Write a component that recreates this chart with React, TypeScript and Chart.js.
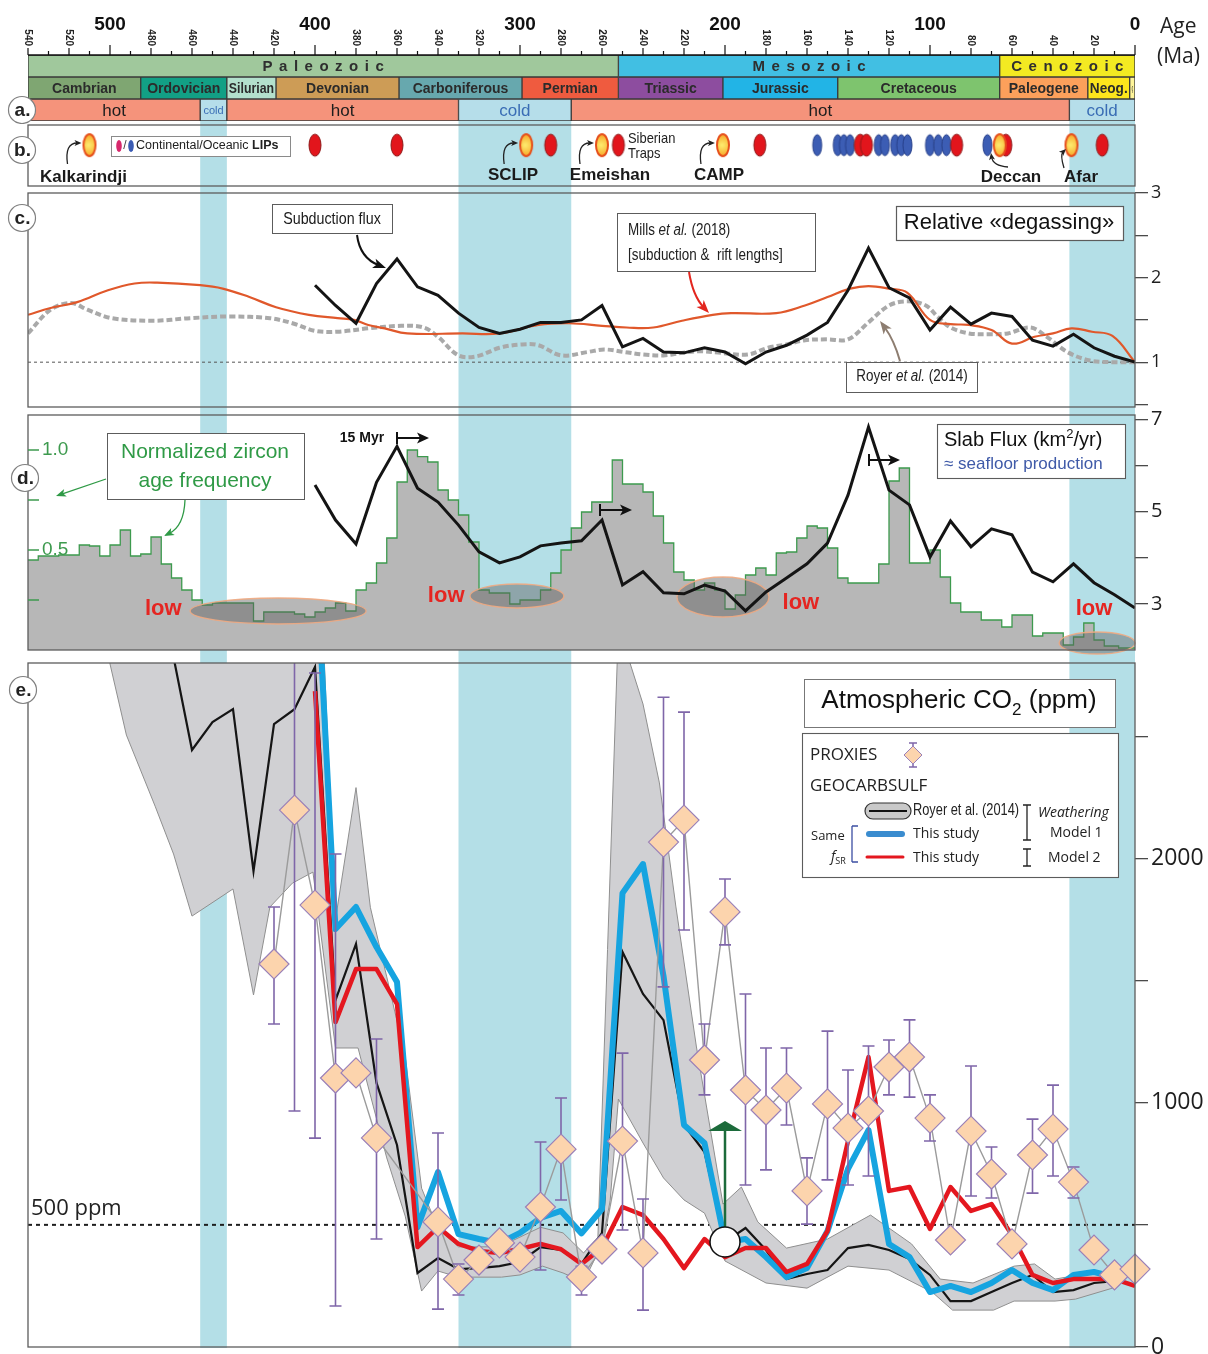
import React, { useEffect, useRef } from 'react';
import { Chart, registerables } from 'chart.js';

Chart.register(...registerables);

/* ======================= DATA ======================= */
// geological time scale (Ma)
const eraNames = ['Paleozoic', 'Mesozoic', 'Cenozoic'];
const eraStart = [540, 252, 66];
const eraEnd = [252, 66, 0];
const eraColors = ['#a0c89c', '#41bfe3', '#f3ea22'];

const periodNames = ['Cambrian', 'Ordovician', 'Silurian', 'Devonian', 'Carboniferous', 'Permian', 'Triassic', 'Jurassic', 'Cretaceous', 'Paleogene', 'Neog.', 'Q'];
const periodStart = [540, 485, 443, 419, 359, 299, 252, 201, 145, 66, 23, 2.6];
const periodEnd = [485, 443, 419, 359, 299, 252, 201, 145, 66, 23, 2.6, 0];
const periodColors = ['#7fa672', '#12a085', '#b3e0cc', '#cd9c56', '#67a8ae', '#ef5b3f', '#8d4d9f', '#22b4e6', '#7ec46e', '#fca05b', '#fde51c', '#fff59a'];

const climateNames = ['hot', 'cold', 'hot', 'cold', 'hot', 'cold'];
const climateStart = [540, 456, 443, 330, 275, 32];
const climateEnd = [456, 443, 330, 275, 32, 0];

const majorAgeLabels = [500, 400, 300, 200, 100, 0];
const minorAgeLabels = [540, 520, 480, 460, 440, 420, 380, 360, 340, 320, 280, 260, 240, 220, 180, 160, 140, 120, 80, 60, 40, 20];

// b. Large igneous provinces (Ma)
const lipNamedAges = [510, 297, 260, 201, 66, 31];
const lipNamedLabels = ['Kalkarindji', 'SCLIP', 'Emeishan', 'CAMP', 'Deccan', 'Afar'];
const lipContinentalAges = [400, 360, 285, 252, 183, 134, 131, 87, 63, 16];
const lipOceanicAges = [155, 145, 142, 139, 125, 122, 117, 114, 111, 100, 96, 92, 72];

// c. relative degassing
const millsAges = [540, 529, 516, 501, 488, 477, 456, 445, 432, 419, 403, 389, 381, 374, 366, 355, 328, 310, 291, 276, 260, 248, 235, 221, 206, 197, 175, 161, 150, 139, 130, 120, 111, 100, 90, 81, 70, 60, 49, 40, 31, 21, 11, 0];
const millsDegassing = [1.56, 1.64, 1.71, 1.85, 1.93, 1.94, 1.91, 1.87, 1.77, 1.65, 1.56, 1.52, 1.50, 1.44, 1.40, 1.34, 1.34, 1.34, 1.44, 1.46, 1.43, 1.41, 1.41, 1.49, 1.56, 1.58, 1.58, 1.67, 1.77, 1.87, 1.90, 1.87, 1.82, 1.50, 1.45, 1.44, 1.38, 1.22, 1.30, 1.34, 1.40, 1.36, 1.31, 1.0];

const royerDegAges = [540, 529, 519, 511, 499, 479, 461, 442, 422, 411, 400, 389, 374, 358, 347, 340, 330, 321, 310, 299, 291, 280, 267, 259, 249, 240, 230, 221, 212, 202, 189, 179, 170, 161, 150, 140, 130, 120, 111, 102, 96, 90, 81, 71, 62, 51, 43, 33, 22, 11, 0];
const royerDegassing = [1.34, 1.62, 1.70, 1.62, 1.52, 1.49, 1.52, 1.54, 1.52, 1.46, 1.37, 1.36, 1.40, 1.43, 1.41, 1.30, 1.08, 1.07, 1.17, 1.21, 1.20, 1.08, 1.12, 1.15, 1.12, 1.09, 1.08, 1.11, 1.13, 1.11, 1.09, 1.17, 1.21, 1.26, 1.27, 1.27, 1.47, 1.67, 1.72, 1.67, 1.53, 1.41, 1.34, 1.33, 1.34, 1.41, 1.30, 1.12, 1.02, 1.0, 1.0];

const fluxAges = [400, 390, 380, 370, 360, 350, 340, 330, 320, 310, 300, 290, 280, 270, 260, 250, 240, 230, 220, 210, 200, 190, 180, 170, 160, 150, 140, 130, 120, 110, 100, 90, 80, 70, 60, 50, 40, 30, 20, 10, 0];
const subductionFlux = [1.91, 1.67, 1.46, 1.93, 2.22, 1.89, 1.79, 1.58, 1.41, 1.34, 1.39, 1.47, 1.47, 1.50, 1.67, 1.18, 1.28, 1.12, 1.11, 1.17, 1.12, 0.98, 1.12, 1.20, 1.32, 1.47, 1.85, 2.35, 1.88, 1.76, 1.38, 1.65, 1.45, 1.58, 1.54, 1.26, 1.19, 1.33, 1.17, 1.07, 1.0];
const degassingReference = 1;

// d. zircon age frequency (bin edges, Ma) and slab flux (km2/yr)
const zirconEdges = [540, 535, 525, 515, 510, 505, 500, 495, 490, 485, 480, 475, 470, 465, 460, 455, 450, 430, 425, 410, 405, 400, 395, 390, 385, 380, 375, 370, 365, 360, 355, 350, 345, 340, 335, 330, 325, 320, 315, 305, 300, 290, 285, 280, 275, 270, 265, 260, 255, 250, 240, 235, 230, 225, 220, 215, 210, 205, 200, 195, 190, 185, 180, 175, 170, 165, 160, 155, 150, 145, 140, 125, 120, 115, 110, 100, 95, 90, 85, 75, 65, 60, 50, 45, 35, 30, 25, 20, 15, 8, 0];
const zirconFrequency = [0.45, 0.47, 0.475, 0.525, 0.52, 0.47, 0.525, 0.60, 0.47, 0.48, 0.565, 0.43, 0.36, 0.30, 0.25, 0.225, 0.235, 0.145, 0.19, 0.18, 0.165, 0.19, 0.21, 0.235, 0.195, 0.30, 0.335, 0.435, 0.56, 0.84, 1.0, 0.967, 0.94, 0.80, 0.75, 0.675, 0.54, 0.30, 0.285, 0.23, 0.25, 0.30, 0.385, 0.50, 0.61, 0.69, 0.74, 0.74, 0.95, 0.83, 0.79, 0.67, 0.535, 0.39, 0.35, 0.30, 0.335, 0.30, 0.205, 0.275, 0.375, 0.41, 0.375, 0.485, 0.49, 0.56, 0.62, 0.61, 0.51, 0.36, 0.335, 0.43, 0.845, 0.91, 0.435, 0.50, 0.365, 0.235, 0.19, 0.15, 0.115, 0.175, 0.07, 0.085, 0.025, 0.065, 0.135, 0.05, 0.02, 0.01];
const slabFlux = [5.58, 4.82, 4.30, 5.64, 6.42, 5.51, 5.21, 4.71, 4.13, 3.89, 4.02, 4.26, 4.32, 4.37, 4.82, 3.41, 3.70, 3.24, 3.22, 3.41, 3.28, 2.85, 3.26, 3.56, 3.87, 4.32, 5.36, 6.84, 5.47, 5.15, 4.02, 4.80, 4.24, 4.63, 4.50, 3.69, 3.48, 3.87, 3.46, 3.20, 2.91];
const zirconTickValues = [1.0, 0.75, 0.5, 0.25];
const zirconTickLabels = ['1.0', '', '0.5', ''];

// e. atmospheric CO2 (ppm)
const royerCO2Ages = [472, 460, 450, 440, 430, 420, 410, 400, 390, 380, 370, 360, 350, 340, 330, 320, 310, 300, 290, 280, 270, 260, 250, 240, 230, 220, 210, 200, 190, 180, 170, 160, 150, 140, 130, 120, 110, 100, 90, 80, 70, 60, 50, 40, 30, 20, 10];
const royerCO2 = [2950, 2444, 2558, 2611, 1948, 2550, 2611, 2784, 1420, 1650, 1081, 827, 303, 364, 319, 323, 331, 348, 409, 397, 340, 467, 1617, 1445, 1338, 909, 798, 430, 487, 397, 278, 299, 315, 405, 418, 397, 360, 295, 188, 188, 225, 262, 295, 225, 233, 262, 270];
// uncertainty envelope (upper edge old->young, then lower edge young->old)
const royerBandAges = [505, 398, 390, 380, 373, 365, 356, 348, 340, 330, 310, 290, 279, 269, 262, 252, 240, 232, 224, 214, 201, 192, 184, 170, 150, 129, 109, 95, 79, 59, 49, 39, 19, 8, 8, 11, 29, 39, 59, 69, 89, 99, 120, 140, 160, 180, 200, 210, 220, 230, 240, 252, 256, 260, 269, 279, 289, 300, 309, 330, 340, 348, 356, 365, 379, 390, 401, 411, 422, 430, 440, 460, 469, 478, 492, 500, 505];
const royerBandCO2 = [3300, 3300, 1750, 2290, 1800, 1515, 1190, 650, 485, 410, 410, 490, 467, 385, 450, 2950, 2632, 2309, 1805, 1232, 585, 655, 512, 405, 442, 540, 422, 278, 262, 331, 340, 278, 307, 300, 250, 241, 196, 188, 188, 151, 151, 225, 315, 331, 241, 262, 352, 548, 602, 692, 835, 1015, 600, 421, 266, 303, 331, 295, 286, 286, 311, 229, 536, 774, 1224, 1224, 1944, 1899, 1801, 1441, 1875, 1764, 2018, 2214, 2505, 2796, 3300];
const model1Ages = [398, 390, 380, 370, 360, 350, 340, 330, 320, 310, 300, 290, 280, 270, 260, 250, 240, 230, 220, 210, 200, 190, 180, 170, 160, 150, 140, 130, 120, 110, 100, 90, 80, 70, 60, 50, 40, 30, 20, 10];
const model1CO2 = [3000, 1711, 1801, 1637, 1494, 490, 716, 462, 442, 425, 467, 528, 557, 465, 565, 1858, 1977, 1519, 909, 835, 430, 442, 368, 286, 323, 475, 729, 888, 422, 368, 225, 250, 225, 262, 315, 262, 233, 295, 307, 286];
const model2Ages = [400, 390, 380, 370, 360, 350, 340, 330, 320, 310, 300, 290, 280, 270, 260, 250, 240, 230, 220, 210, 200, 190, 180, 170, 160, 150, 140, 130, 120, 110, 100, 90, 80, 70, 60, 50, 40, 30, 20, 10, 0];
const model2CO2 = [2685, 1330, 1547, 1547, 1404, 409, 491, 422, 393, 385, 401, 422, 400, 340, 405, 573, 540, 442, 323, 442, 368, 405, 405, 307, 340, 475, 843, 1187, 639, 655, 483, 655, 557, 585, 458, 295, 262, 278, 278, 278, 250];
const proxyAges = [420, 410, 400, 390, 380, 370, 340, 330, 320, 310, 300, 290, 280, 270, 260, 250, 240, 230, 220, 210, 200, 190, 180, 170, 160, 150, 140, 130, 120, 110, 100, 90, 80, 70, 60, 50, 40, 30, 20, 10, 0];
const proxyCO2 = [1568, 2198, 1809, 1101, 1122, 856, 512, 278, 356, 426, 368, 573, 810, 287, 401, 843, 385, 2067, 2157, 1175, 1781, 1052, 970, 1060, 639, 995, 896, 966, 1146, 1187, 937, 438, 884, 708, 422, 786, 892, 675, 397, 295, 319];
const proxyLow = [1322, 966, 855, 168, null, 442, 155, 213, null, null, null, 315, 602, 213, null, 479, 151, 1474, 1707, 1032, 1646, 663, 725, 909, 503, 684, 663, 700, 1032, 1023, 843, null, 618, 610, null, 630, 700, 610, null, null, null];
const proxyHigh = [1801, 2900, 2759, 2018, null, 1261, 876, 340, null, null, null, 839, 1019, 330, null, 1203, 606, 2660, 2599, 1322, 1916, 1445, 1224, 1224, 774, 1293, 1134, 1232, 1257, 1339, 1032, null, 1150, 819, null, 933, 1072, 737, null, null, null];
const co2Reference = 500;
const camMarker = { age: 200, co2: 430, arrowTo: 925 };

/* ======================= STYLE ======================= */
const W = 1208;
const SANS = '"Liberation Sans", Arial, Helvetica, sans-serif';
const OPEN = '"Open Sans", "Liberation Sans", sans-serif';
const BAND = '#b4dfe7';
const HOT = '#f5937b';
const COLD = '#b6deea';
const COLD_TEXT = '#3a6db5';
const FRAME = '#5c5c5c';

/* ======================= DRAW HELPERS ======================= */
function txt(ctx: any, s: string, x: number, y: number, font: string, color: string, align = 'left', sx = 1) {
  ctx.save();
  ctx.font = font;
  ctx.fillStyle = color;
  ctx.textAlign = align;
  ctx.textBaseline = 'middle';
  ctx.translate(x, y);
  ctx.scale(sx, 1);
  ctx.fillText(s, 0, 0);
  ctx.restore();
}

function rich(ctx: any, parts: any[], x: number, y: number, align = 'left', sx = 1) {
  ctx.save();
  ctx.textBaseline = 'middle';
  ctx.textAlign = 'left';
  let total = 0;
  for (const p of parts) { ctx.font = p.f; total += ctx.measureText(p.t).width * sx; }
  let cx = align === 'center' ? x - total / 2 : align === 'right' ? x - total : x;
  for (const p of parts) {
    ctx.font = p.f;
    ctx.fillStyle = p.c;
    const w = ctx.measureText(p.t).width * sx;
    ctx.save();
    ctx.translate(cx, y + (p.dy || 0));
    ctx.scale(sx, 1);
    ctx.fillText(p.t, 0, 0);
    ctx.restore();
    cx += w;
  }
  ctx.restore();
}

function spaced(ctx: any, s: string, cx: number, y: number, font: string, color: string, gap: number) {
  ctx.save();
  ctx.font = font;
  ctx.fillStyle = color;
  ctx.textBaseline = 'middle';
  ctx.textAlign = 'left';
  const chars = s.split('');
  const ws = chars.map((ch) => ctx.measureText(ch).width);
  const total = ws.reduce((a, b) => a + b, 0) + gap * (chars.length - 1);
  let x = cx - total / 2;
  chars.forEach((ch, i) => { ctx.fillText(ch, x, y); x += ws[i] + gap; });
  ctx.restore();
}

function fitText(ctx: any, s: string, cx: number, y: number, font: string, color: string, maxW: number) {
  ctx.save();
  ctx.font = font;
  const w = ctx.measureText(s).width;
  ctx.restore();
  txt(ctx, s, cx, y, font, color, 'center', Math.min(1, maxW / Math.max(w, 1)));
}

function rectBox(ctx: any, x1: number, y1: number, x2: number, y2: number, stroke = FRAME, lw = 1, fill = '#fff') {
  ctx.save();
  if (fill) { ctx.fillStyle = fill; ctx.fillRect(x1, y1, x2 - x1, y2 - y1); }
  ctx.strokeStyle = stroke;
  ctx.lineWidth = lw;
  ctx.strokeRect(x1 + 0.5, y1 + 0.5, x2 - x1, y2 - y1);
  ctx.restore();
}

function head(ctx: any, x: number, y: number, ang: number, len: number, wid: number, color: string) {
  ctx.save();
  ctx.translate(x, y);
  ctx.rotate(ang);
  ctx.beginPath();
  ctx.moveTo(0, 0);
  ctx.lineTo(-len, -wid / 2);
  ctx.lineTo(-len * 0.75, 0);
  ctx.lineTo(-len, wid / 2);
  ctx.closePath();
  ctx.fillStyle = color;
  ctx.fill();
  ctx.restore();
}

function arrowQ(ctx: any, x0: number, y0: number, cx: number, cy: number, x1: number, y1: number, color: string, lw: number, hl: number, hw: number) {
  ctx.save();
  ctx.strokeStyle = color;
  ctx.lineWidth = lw;
  const ang = Math.atan2(y1 - cy, x1 - cx);
  ctx.beginPath();
  ctx.moveTo(x0, y0);
  ctx.quadraticCurveTo(cx, cy, x1 - Math.cos(ang) * hl * 0.6, y1 - Math.sin(ang) * hl * 0.6);
  ctx.stroke();
  head(ctx, x1, y1, ang, hl, hw, color);
  ctx.restore();
}

function arrowL(ctx: any, x0: number, y0: number, x1: number, y1: number, color: string, lw: number, hl: number, hw: number) {
  arrowQ(ctx, x0, y0, (x0 + x1) / 2, (y0 + y1) / 2, x1, y1, color, lw, hl, hw);
}

function barArrow(ctx: any, x0: number, x1: number, y: number, color = '#111') {
  ctx.save();
  ctx.strokeStyle = color;
  ctx.lineWidth = 2;
  ctx.beginPath();
  ctx.moveTo(x0, y - 6);
  ctx.lineTo(x0, y + 6);
  ctx.moveTo(x0, y);
  ctx.lineTo(x1 - 6, y);
  ctx.stroke();
  head(ctx, x1, y, 0, 12, 11, color);
  ctx.restore();
}

function circleTag(ctx: any, label: string, cx: number, cy: number) {
  ctx.save();
  ctx.beginPath();
  ctx.arc(cx, cy, 13.5, 0, Math.PI * 2);
  ctx.fillStyle = '#fff';
  ctx.fill();
  ctx.strokeStyle = '#808080';
  ctx.lineWidth = 1.2;
  ctx.stroke();
  ctx.restore();
  txt(ctx, label, cx + 0.5, cy + 1, `bold 19px ${SANS}`, '#222', 'center');
}

function drawBands(chart: any, yTop: number, yBot: number) {
  const ctx = chart.ctx;
  const xs = chart.scales.x;
  ctx.save();
  ctx.fillStyle = BAND;
  climateNames.forEach((n, i) => {
    if (n !== 'cold') return;
    const a = xs.getPixelForValue(climateStart[i]);
    const b = xs.getPixelForValue(climateEnd[i]);
    ctx.fillRect(Math.min(a, b), yTop, Math.abs(b - a), yBot - yTop);
  });
  ctx.restore();
}

function frame(chart: any, color = FRAME, lw = 1.3) {
  const { left, top, right, bottom } = chart.chartArea;
  const ctx = chart.ctx;
  ctx.save();
  ctx.strokeStyle = color;
  ctx.lineWidth = lw;
  ctx.strokeRect(left, top, right - left, bottom - top);
  ctx.restore();
}

function common(padding: any) {
  return {
    responsive: false,
    maintainAspectRatio: false,
    animation: false,
    devicePixelRatio: 1,
    events: [],
    layout: { padding },
    plugins: { legend: { display: false }, tooltip: { enabled: false } },
  };
}

function ageAxis() {
  return { type: 'linear', min: 0, max: 540, reverse: true, display: false };
}

function rightAxis(min: number, max: number, tickVals: number[], labelVals: number[], size: number) {
  return {
    type: 'linear',
    position: 'right',
    min,
    max,
    afterBuildTicks: (s: any) => { s.ticks = tickVals.map((v) => ({ value: v })); },
    afterFit: (s: any) => { s.width = 73; },
    border: { display: false },
    grid: { drawOnChartArea: false, drawTicks: true, tickLength: 13, color: '#4a4a4a', lineWidth: 1.3 },
    ticks: {
      autoSkip: false,
      padding: 3,
      color: '#1e1e1e',
      font: { family: '"Open Sans", "Liberation Sans", sans-serif', size },
      callback: (v: any) => (labelVals.indexOf(Number(v)) >= 0 ? String(v) : ''),
    },
  };
}

const pts = (ages: number[], vals: any[]) => ages.map((a, i) => ({ x: a, y: vals[i] }));

/* ======================= PANEL: time scale + a ======================= */
function makeTop() {
  const row = (name: string, starts: number[], ends: number[], colors: string[]) => ({
    label: name,
    data: starts.map((s, i) => ({ x: [s, ends[i]], y: name })),
    backgroundColor: colors,
    borderColor: '#3a3a3a',
    borderWidth: 1,
    borderSkipped: false,
    grouped: false,
    categoryPercentage: 1,
    barPercentage: 1,
  });
  const plugin = {
    id: 'topScale',
    afterDatasetsDraw(chart: any) {
      const ctx = chart.ctx;
      const names = [eraNames, periodNames, climateNames];
      names.forEach((list, d) => {
        chart.getDatasetMeta(d).data.forEach((el: any, i: number) => {
          const p = el.getProps(['x', 'base', 'y'], true);
          const cx = (p.x + p.base) / 2;
          const w = Math.abs(p.x - p.base);
          const name = list[i];
          if (d === 0) spaced(ctx, name, cx, p.y + 1, `bold 15px ${SANS}`, '#2f2f2f', 6.5);
          else if (d === 1) fitText(ctx, name, cx, p.y + 1, `bold ${name === 'Q' ? 7 : 14}px ${SANS}`, '#2b2b2b', w - 4);
          else txt(ctx, name, cx, p.y + 1, `${w < 40 ? 11 : 17}px ${SANS}`, name === 'cold' ? COLD_TEXT : '#1d1d1d', 'center');
        });
      });
    },
    afterDraw(chart: any) {
      const ctx = chart.ctx;
      const xs = chart.scales.x;
      const top = chart.chartArea.top;
      ctx.save();
      ctx.strokeStyle = '#111';
      ctx.lineWidth = 1.6;
      ctx.beginPath();
      ctx.moveTo(xs.getPixelForValue(540), top);
      ctx.lineTo(xs.getPixelForValue(0), top);
      ctx.stroke();
      ctx.lineWidth = 1.2;
      for (let a = 0; a <= 540; a += 10) {
        const x = xs.getPixelForValue(a);
        const len = a % 100 === 0 ? 10 : a % 20 === 0 ? 7 : 4;
        ctx.beginPath();
        ctx.moveTo(x, top);
        ctx.lineTo(x, top - len);
        ctx.stroke();
      }
      ctx.restore();
      majorAgeLabels.forEach((a) => txt(ctx, String(a), xs.getPixelForValue(a), 25, `bold 19px ${SANS}`, '#111', 'center'));
      minorAgeLabels.forEach((a) => {
        ctx.save();
        ctx.translate(xs.getPixelForValue(a), 46);
        ctx.rotate(Math.PI / 2);
        ctx.font = `bold 10px ${SANS}`;
        ctx.fillStyle = '#222';
        ctx.textAlign = 'right';
        ctx.textBaseline = 'middle';
        ctx.fillText(String(a), 0, 0);
        ctx.restore();
      });
      txt(ctx, 'Age', 1160, 27, `21px ${OPEN}`, '#222');
      txt(ctx, '(Ma)', 1157, 57, `21px ${OPEN}`, '#222');
      circleTag(ctx, 'a.', 22, 110);
    },
  };
  return {
    type: 'bar',
    data: {
      labels: ['era', 'period', 'climate'],
      datasets: [
        row('era', eraStart, eraEnd, eraColors),
        row('period', periodStart, periodEnd, periodColors),
        row('climate', climateStart, climateEnd, climateNames.map((n) => (n === 'hot' ? HOT : COLD))),
      ],
    },
    options: {
      ...common({ left: 28, right: 73, top: 55, bottom: 3 }),
      indexAxis: 'y',
      scales: { x: ageAxis(), y: { type: 'category', offset: true, display: false } },
    },
    plugins: [plugin],
  };
}

/* ======================= PANEL b: LIPs ======================= */
function lipImage(kind: string) {
  const w = kind === 'ocean' ? 9 : 12;
  const h = kind === 'ocean' ? 21 : 22;
  const c = document.createElement('canvas');
  c.width = w + 4;
  c.height = h + 4;
  const g = c.getContext('2d') as any;
  const cx = c.width / 2;
  const cy = c.height / 2;
  g.beginPath();
  g.ellipse(cx, cy, w / 2, h / 2, 0, 0, Math.PI * 2);
  if (kind === 'named') {
    const grad = g.createRadialGradient(cx - 1, cy, 1, cx, cy, h / 2);
    grad.addColorStop(0, '#fde76a');
    grad.addColorStop(1, '#f7a626');
    g.fillStyle = grad;
    g.fill();
    g.strokeStyle = '#e6501c';
    g.lineWidth = 2;
    g.stroke();
  } else if (kind === 'cont') {
    g.fillStyle = '#e2151c';
    g.fill();
    g.strokeStyle = '#8e1a1a';
    g.lineWidth = 1;
    g.stroke();
  } else {
    g.fillStyle = '#3c5db4';
    g.fill();
    g.strokeStyle = '#27408a';
    g.lineWidth = 1;
    g.stroke();
  }
  return c;
}

function makeLips() {
  const oy = 118;
  const LIP_ROW = 0.67;
  const plugin = {
    id: 'lipsDecor',
    beforeDraw(chart: any) { drawBands(chart, 121 - oy, 193 - oy); },
    afterDatasetsDraw(chart: any) {
      const ctx = chart.ctx;
      frame(chart);
      ctx.save();
      ctx.translate(0, -oy);
      // legend
      rectBox(ctx, 111, 136, 290, 156, '#8a8a8a', 1);
      ctx.save();
      ctx.beginPath(); ctx.ellipse(119, 146, 2.8, 6, 0, 0, Math.PI * 2); ctx.fillStyle = '#d7286c'; ctx.fill();
      ctx.beginPath(); ctx.ellipse(131, 146, 2.8, 6, 0, 0, Math.PI * 2); ctx.fillStyle = '#3a5bb3'; ctx.fill();
      ctx.restore();
      txt(ctx, '/', 125, 146, `12px ${SANS}`, '#444', 'center');
      rich(ctx, [
        { t: 'Continental/Oceanic ', f: `12.5px ${SANS}`, c: '#222' },
        { t: 'LIPs', f: `bold 12.5px ${SANS}`, c: '#222' },
      ], 136, 146);
      // names
      const xs = chart.scales.x;
      const labelPos = [[40, 177, 'left'], [513, 175, 'center'], [610, 175, 'center'], [719, 175, 'center'], [1011, 177, 'center'], [1081, 177, 'center']];
      lipNamedLabels.forEach((n, i) => {
        const lp: any = labelPos[i];
        txt(ctx, n, lp[0], lp[1], `bold 17px ${SANS}`, '#1a1a1a', lp[2]);
      });
      // curved pointers to the named provinces
      const named = lipNamedAges.map((a) => xs.getPixelForValue(a));
      [0, 1, 2, 3].forEach((i) => {
        const x = named[i];
        arrowQ(ctx, x - 22, 164, x - 25, 143, x - 8, 143, '#222', 1.3, 7, 6);
      });
      arrowQ(ctx, 1008, 167, 993, 166, 991, 153, '#222', 1.3, 7, 6);
      arrowQ(ctx, 1064, 168, 1060, 155, 1066, 149, '#222', 1.3, 7, 6);
      txt(ctx, 'Siberian', 628, 139, `15px ${SANS}`, '#222', 'left', 0.86);
      txt(ctx, 'Traps', 628, 154, `15px ${SANS}`, '#222', 'left', 0.86);
      circleTag(ctx, 'b.', 22, 150);
      ctx.restore();
    },
  };
  return {
    type: 'scatter',
    data: {
      datasets: [
        { label: 'named', data: lipNamedAges.map((a) => ({ x: a, y: LIP_ROW })), pointStyle: lipImage('named'), clip: false },
        { label: 'continental', data: lipContinentalAges.map((a) => ({ x: a, y: LIP_ROW })), pointStyle: lipImage('cont'), clip: false },
        { label: 'oceanic', data: lipOceanicAges.map((a) => ({ x: a, y: LIP_ROW })), pointStyle: lipImage('ocean'), clip: false },
      ],
    },
    options: {
      ...common({ left: 28, right: 73, top: 7, bottom: 7 }),
      scales: { x: ageAxis(), y: { type: 'linear', min: 0, max: 1, display: false } },
    },
    plugins: [plugin],
  };
}

/* ======================= PANEL c: degassing ======================= */
function makeDegassing() {
  const oy = 176;
  const plugin = {
    id: 'degDecor',
    beforeDraw(chart: any) { drawBands(chart, 193 - oy, 415 - oy); },
    beforeDatasetsDraw(chart: any) {
      const ctx = chart.ctx;
      const y = chart.scales.y.getPixelForValue(degassingReference);
      ctx.save();
      ctx.strokeStyle = '#555';
      ctx.lineWidth = 1;
      ctx.setLineDash([3, 3]);
      ctx.beginPath();
      ctx.moveTo(chart.chartArea.left, y);
      ctx.lineTo(chart.chartArea.right, y);
      ctx.stroke();
      ctx.restore();
    },
    afterDatasetsDraw(chart: any) {
      const ctx = chart.ctx;
      frame(chart);
      ctx.save();
      ctx.translate(0, -oy);
      rectBox(ctx, 272, 204, 392, 233, FRAME, 1);
      txt(ctx, 'Subduction flux', 332, 219, `17px ${SANS}`, '#1a1a1a', 'center', 0.84);
      arrowQ(ctx, 357, 235, 360, 258, 386, 268, '#111', 2, 13, 10);
      rectBox(ctx, 617, 213, 815, 271, FRAME, 1);
      rich(ctx, [
        { t: 'Mills ', f: `16px ${SANS}`, c: '#222' },
        { t: 'et al.', f: `italic 16px ${SANS}`, c: '#222' },
        { t: ' (2018)', f: `16px ${SANS}`, c: '#222' },
      ], 628, 231, 'left', 0.84);
      txt(ctx, '[subduction &  rift lengths]', 628, 256, `16px ${SANS}`, '#222', 'left', 0.84);
      arrowQ(ctx, 689, 272, 693, 296, 709, 313, '#e3261f', 2, 13, 10);
      rectBox(ctx, 846, 362, 977, 392, FRAME, 1);
      rich(ctx, [
        { t: 'Royer ', f: `16px ${SANS}`, c: '#222' },
        { t: 'et al.', f: `italic 16px ${SANS}`, c: '#222' },
        { t: ' (2014)', f: `16px ${SANS}`, c: '#222' },
      ], 912, 377, 'center', 0.84);
      arrowQ(ctx, 900, 361, 894, 340, 880, 321, '#8d7d70', 2, 13, 10);
      rectBox(ctx, 896, 206, 1123, 240, FRAME, 1.2);
      txt(ctx, 'Relative «degassing»', 1009, 223, `22px ${SANS}`, '#111', 'center');
      circleTag(ctx, 'c.', 22, 218);
      ctx.restore();
    },
  };
  return {
    type: 'line',
    data: {
      datasets: [
        { label: 'Subduction flux', data: pts(fluxAges, subductionFlux), borderColor: '#141414', borderWidth: 3, pointRadius: 0, tension: 0 },
        { label: 'Mills et al. (2018)', data: pts(millsAges, millsDegassing), borderColor: '#e0582b', borderWidth: 2.2, pointRadius: 0, tension: 0.4 },
        { label: 'Royer et al. (2014)', data: pts(royerDegAges, royerDegassing), borderColor: '#a9a9a9', borderWidth: 4, borderDash: [6, 3], pointRadius: 0, tension: 0.35 },
      ],
    },
    options: {
      ...common({ left: 28, right: 0, top: 17, bottom: 17 }),
      scales: { x: ageAxis(), y: rightAxis(0.47, 3, [0.5, 1, 1.5, 2, 2.5, 3], [1, 2, 3], 18) },
    },
    plugins: [plugin],
  };
}

/* ======================= PANEL d: zircons & slab flux ======================= */
function makeSlab() {
  const oy = 398;
  const lowAreas = [[418, 0.195, 88, 13], [301.5, 0.27, 47, 12], [201, 0.265, 46, 20], [18.5, 0.035, 38, 11]];
  const lowLabels = [[474, 0.205], [336, 0.27], [163, 0.235], [20, 0.205]];
  const plugin = {
    id: 'slabDecor',
    beforeDraw(chart: any) { drawBands(chart, 415 - oy, 663 - oy); },
    afterDatasetDraw(chart: any, args: any) {
      if (chart.data.datasets[args.index].label !== 'zircon') return;
      const ctx = chart.ctx;
      const xs = chart.scales.x;
      const yz = chart.scales.yZ;
      ctx.save();
      lowAreas.forEach((e) => {
        ctx.beginPath();
        ctx.ellipse(xs.getPixelForValue(e[0]), yz.getPixelForValue(e[1]), e[2], e[3], 0, 0, Math.PI * 2);
        ctx.fillStyle = 'rgba(95,95,95,0.45)';
        ctx.fill();
        ctx.strokeStyle = 'rgba(240,170,130,0.9)';
        ctx.lineWidth = 1.3;
        ctx.stroke();
      });
      ctx.restore();
    },
    afterDatasetsDraw(chart: any) {
      const ctx = chart.ctx;
      const xs = chart.scales.x;
      const yz = chart.scales.yZ;
      frame(chart);
      // green zircon axis (inside the frame)
      ctx.save();
      ctx.strokeStyle = '#3d9a4e';
      ctx.lineWidth = 1.5;
      zirconTickValues.forEach((v, i) => {
        const y = yz.getPixelForValue(v);
        ctx.beginPath();
        ctx.moveTo(chart.chartArea.left, y);
        ctx.lineTo(chart.chartArea.left + 11, y);
        ctx.stroke();
        if (zirconTickLabels[i]) txt(ctx, zirconTickLabels[i], chart.chartArea.left + 14, y, `19px ${SANS}`, '#3d9a4e');
      });
      ctx.restore();
      lowLabels.forEach((l) => txt(ctx, 'low', xs.getPixelForValue(l[0]), yz.getPixelForValue(l[1]), `bold 22px ${SANS}`, '#e52521', 'center'));
      ctx.save();
      ctx.translate(0, -oy);
      rectBox(ctx, 107, 433, 304, 499, FRAME, 1);
      txt(ctx, 'Normalized zircon', 205, 452, `21px ${SANS}`, '#2f9a46', 'center');
      txt(ctx, 'age frequency', 205, 481, `21px ${SANS}`, '#2f9a46', 'center');
      arrowL(ctx, 106, 479, 56, 496, '#2f9a46', 1.3, 10, 8);
      arrowQ(ctx, 185, 500, 184, 526, 164, 536, '#2f9a46', 1.3, 10, 8);
      txt(ctx, '15 Myr', 362, 438, `bold 14px ${SANS}`, '#111', 'center');
      barArrow(ctx, 397, 429, 438);
      barArrow(ctx, 600, 632, 510);
      barArrow(ctx, 869, 900, 460);
      rectBox(ctx, 937, 424, 1125, 478, FRAME, 1.1);
      rich(ctx, [
        { t: 'Slab Flux (km', f: `20px ${SANS}`, c: '#111' },
        { t: '2', f: `13px ${SANS}`, c: '#111', dy: -6 },
        { t: '/yr)', f: `20px ${SANS}`, c: '#111' },
      ], 944, 440);
      txt(ctx, '≈ seafloor production', 944, 464, `17px ${SANS}`, '#3f5aa8');
      circleTag(ctx, 'd.', 25, 478);
      ctx.restore();
    },
  };
  const zirconPts = zirconEdges.map((e, i) => ({ x: e, y: zirconFrequency[Math.min(i, zirconFrequency.length - 1)] }));
  return {
    type: 'line',
    data: {
      datasets: [
        { label: 'slab', data: pts(fluxAges, slabFlux), yAxisID: 'yS', borderColor: '#141414', borderWidth: 3, pointRadius: 0, tension: 0, order: 0 },
        { label: 'zircon', data: zirconPts, yAxisID: 'yZ', stepped: 'before', borderColor: '#3d9a4e', borderWidth: 1.3, backgroundColor: '#b7b7b7', fill: 'origin', pointRadius: 0, order: 1 },
      ],
    },
    options: {
      ...common({ left: 28, right: 0, top: 17, bottom: 15 }),
      scales: {
        x: ageAxis(),
        yZ: { type: 'linear', position: 'left', min: 0, max: 1.175, display: false },
        yS: rightAxis(2, 7.1, [3, 4, 5, 6, 7], [3, 5, 7], 20),
      },
    },
    plugins: [plugin],
  };
}

/* ======================= PANEL e: CO2 ======================= */
function makeCO2() {
  const oy = 643;
  const plugin = {
    id: 'co2Decor',
    beforeDraw(chart: any) { drawBands(chart, 663 - oy, 1348 - oy); },
    beforeDatasetsDraw(chart: any) {
      const ctx = chart.ctx;
      const y = chart.scales.y.getPixelForValue(co2Reference);
      ctx.save();
      ctx.strokeStyle = '#1e1e1e';
      ctx.lineWidth = 2;
      ctx.setLineDash([4, 4]);
      ctx.beginPath();
      ctx.moveTo(chart.chartArea.left, y);
      ctx.lineTo(chart.chartArea.right, y);
      ctx.stroke();
      ctx.restore();
    },
    afterDatasetDraw(chart: any, args: any) {
      if (chart.data.datasets[args.index].label !== 'proxyLine') return;
      const ctx = chart.ctx;
      const xs = chart.scales.x;
      const ys = chart.scales.y;
      const a = chart.chartArea;
      ctx.save();
      ctx.beginPath();
      ctx.rect(a.left, a.top, a.right - a.left, a.bottom - a.top);
      ctx.clip();
      ctx.strokeStyle = '#7f66a9';
      ctx.lineWidth = 1.6;
      proxyAges.forEach((age, i) => {
        const lo = proxyLow[i];
        const hi = proxyHigh[i];
        if (lo == null || hi == null) return;
        const x = xs.getPixelForValue(age);
        const y1 = ys.getPixelForValue(lo);
        const y2 = ys.getPixelForValue(hi);
        ctx.beginPath();
        ctx.moveTo(x, y1); ctx.lineTo(x, y2);
        ctx.moveTo(x - 6, y1); ctx.lineTo(x + 6, y1);
        ctx.moveTo(x - 6, y2); ctx.lineTo(x + 6, y2);
        ctx.stroke();
      });
      ctx.restore();
    },
    afterDatasetsDraw(chart: any) {
      const ctx = chart.ctx;
      const xs = chart.scales.x;
      const ys = chart.scales.y;
      frame(chart);
      // CAMP marker: open circle + green arrow
      const cx = xs.getPixelForValue(camMarker.age);
      const cy = ys.getPixelForValue(camMarker.co2);
      const ty = ys.getPixelForValue(camMarker.arrowTo);
      ctx.save();
      ctx.strokeStyle = '#1c6b3b';
      ctx.lineWidth = 2.5;
      ctx.beginPath();
      ctx.moveTo(cx, cy - 15);
      ctx.lineTo(cx, ty + 8);
      ctx.stroke();
      ctx.beginPath();
      ctx.moveTo(cx, ty);
      ctx.lineTo(cx + 17, ty + 10);
      ctx.lineTo(cx - 17, ty + 10);
      ctx.closePath();
      ctx.fillStyle = '#1c6b3b';
      ctx.fill();
      ctx.beginPath();
      ctx.arc(cx, cy, 15, 0, Math.PI * 2);
      ctx.fillStyle = '#fff';
      ctx.fill();
      ctx.strokeStyle = '#111';
      ctx.lineWidth = 1.5;
      ctx.stroke();
      ctx.restore();

      ctx.save();
      ctx.translate(0, -oy);
      txt(ctx, '500 ppm', 31, 1209, `22px ${OPEN}`, '#222');
      // title
      rectBox(ctx, 804, 679, 1115, 727, '#777', 1);
      rich(ctx, [
        { t: 'Atmospheric CO', f: `26px ${SANS}`, c: '#111' },
        { t: '2', f: `17px ${SANS}`, c: '#111', dy: 9 },
        { t: ' (ppm)', f: `26px ${SANS}`, c: '#111' },
      ], 959, 701, 'center');
      // legend
      rectBox(ctx, 802, 733, 1118, 877, FRAME, 1.1);
      txt(ctx, 'PROXIES', 810, 755, `17px ${OPEN}`, '#222');
      ctx.save();
      ctx.strokeStyle = '#7f66a9';
      ctx.lineWidth = 1.5;
      ctx.beginPath();
      ctx.moveTo(913, 743); ctx.lineTo(913, 767);
      ctx.moveTo(909, 743); ctx.lineTo(917, 743);
      ctx.moveTo(909, 767); ctx.lineTo(917, 767);
      ctx.stroke();
      ctx.beginPath();
      ctx.moveTo(913, 746); ctx.lineTo(922, 755); ctx.lineTo(913, 764); ctx.lineTo(904, 755); ctx.closePath();
      ctx.fillStyle = '#fcd4ad';
      ctx.fill();
      ctx.strokeStyle = '#9a80b8';
      ctx.lineWidth = 1;
      ctx.stroke();
      ctx.restore();
      txt(ctx, 'GEOCARBSULF', 810, 786, `17px ${OPEN}`, '#222');
      ctx.save();
      ctx.beginPath();
      ctx.moveTo(873, 803); ctx.lineTo(903, 803);
      ctx.arc(903, 811, 8, -Math.PI / 2, Math.PI / 2);
      ctx.lineTo(873, 819);
      ctx.arc(873, 811, 8, Math.PI / 2, Math.PI * 1.5);
      ctx.closePath();
      ctx.fillStyle = '#c9c9c9';
      ctx.fill();
      ctx.strokeStyle = '#333';
      ctx.lineWidth = 1.2;
      ctx.stroke();
      ctx.strokeStyle = '#111';
      ctx.lineWidth = 2.2;
      ctx.beginPath(); ctx.moveTo(869, 811); ctx.lineTo(907, 811); ctx.stroke();
      ctx.lineCap = 'round';
      ctx.strokeStyle = '#3a8ccf';
      ctx.lineWidth = 6;
      ctx.beginPath(); ctx.moveTo(869, 834); ctx.lineTo(902, 834); ctx.stroke();
      ctx.strokeStyle = '#e4171f';
      ctx.lineWidth = 3;
      ctx.beginPath(); ctx.moveTo(867, 857); ctx.lineTo(903, 857); ctx.stroke();
      ctx.lineCap = 'butt';
      // brackets
      ctx.lineWidth = 1.3;
      ctx.strokeStyle = '#3c4fa3';
      ctx.beginPath();
      ctx.moveTo(852, 826); ctx.lineTo(852, 862);
      ctx.moveTo(852, 826); ctx.lineTo(858, 826);
      ctx.moveTo(852, 862); ctx.lineTo(858, 862);
      ctx.stroke();
      ctx.strokeStyle = '#222';
      ctx.beginPath();
      ctx.moveTo(1027, 805); ctx.lineTo(1027, 840);
      ctx.moveTo(1023, 805); ctx.lineTo(1031, 805);
      ctx.moveTo(1023, 840); ctx.lineTo(1031, 840);
      ctx.moveTo(1027, 849); ctx.lineTo(1027, 866);
      ctx.moveTo(1023, 849); ctx.lineTo(1031, 849);
      ctx.moveTo(1023, 866); ctx.lineTo(1031, 866);
      ctx.stroke();
      ctx.restore();
      rich(ctx, [{ t: 'Royer et al. (2014)', f: `16px ${SANS}`, c: '#222' }], 913, 811, 'left', 0.8);
      txt(ctx, 'This study', 913, 834, `14px ${OPEN}`, '#222');
      txt(ctx, 'This study', 913, 858, `14px ${OPEN}`, '#222');
      txt(ctx, 'Weathering', 1038, 813, `italic 14px ${OPEN}`, '#222');
      txt(ctx, 'Model 1', 1050, 833, `14px ${OPEN}`, '#222');
      txt(ctx, 'Model 2', 1048, 858, `14px ${OPEN}`, '#222');
      txt(ctx, 'Same', 811, 836, `13px ${OPEN}`, '#222');
      rich(ctx, [
        { t: 'f', f: `italic 14px ${OPEN}`, c: '#222' },
        { t: 'SR', f: `9px ${OPEN}`, c: '#222', dy: 4 },
      ], 831, 857);
      circleTag(ctx, 'e.', 23, 690);
      ctx.restore();
    },
  };
  return {
    type: 'line',
    data: {
      datasets: [
        { label: 'proxies', data: pts(proxyAges, proxyCO2), showLine: false, pointStyle: 'rectRot', pointRadius: 15, pointBackgroundColor: '#fcd4ad', pointBorderColor: '#9a80b8', pointBorderWidth: 1.2, clip: false, order: 0 },
        { label: 'proxyLine', data: pts(proxyAges, proxyCO2), borderColor: '#9b9b9b', borderWidth: 1.4, pointRadius: 0, order: 1 },
        { label: 'model2', data: pts(model2Ages, model2CO2), borderColor: '#e4171f', borderWidth: 4.5, pointRadius: 0, borderJoinStyle: 'round', order: 2 },
        { label: 'model1', data: pts(model1Ages, model1CO2), borderColor: '#16a4e0', borderWidth: 6, pointRadius: 0, borderJoinStyle: 'round', order: 3 },
        { label: 'royer', data: pts(royerCO2Ages, royerCO2), borderColor: '#151515', borderWidth: 2.2, pointRadius: 0, order: 4 },
        { label: 'royerBand', data: pts(royerBandAges, royerBandCO2), borderColor: '#8f8f8f', borderWidth: 1, backgroundColor: '#d0d0d3', fill: 'shape', pointRadius: 0, order: 5 },
      ],
    },
    options: {
      ...common({ left: 28, right: 0, top: 20, bottom: 20 }),
      scales: { x: ageAxis(), y: rightAxis(0, 2800, [0, 500, 1000, 1500, 2000, 2500], [0, 1000, 2000], 23) },
    },
    plugins: [plugin],
  };
}

/* ======================= REACT ======================= */
function Panel(props: { top: number; height: number; make: () => any }) {
  const ref = useRef<HTMLCanvasElement | null>(null);
  useEffect(() => {
    if (!ref.current) return;
    const chart = new Chart(ref.current, props.make());
    return () => chart.destroy();
  }, []);
  return (
    <canvas
      ref={ref}
      width={W}
      height={props.height}
      style={{ position: 'absolute', left: 0, top: props.top, width: W, height: props.height }}
    />
  );
}

export default function App() {
  return (
    <div style={{ position: 'absolute', left: 0, top: 0, width: W, height: 1354, background: '#fff', overflow: 'hidden' }}>
      <Panel top={0} height={124} make={makeTop} />
      <Panel top={118} height={75} make={makeLips} />
      <Panel top={176} height={248} make={makeDegassing} />
      <Panel top={398} height={267} make={makeSlab} />
      <Panel top={643} height={724} make={makeCO2} />
    </div>
  );
}
